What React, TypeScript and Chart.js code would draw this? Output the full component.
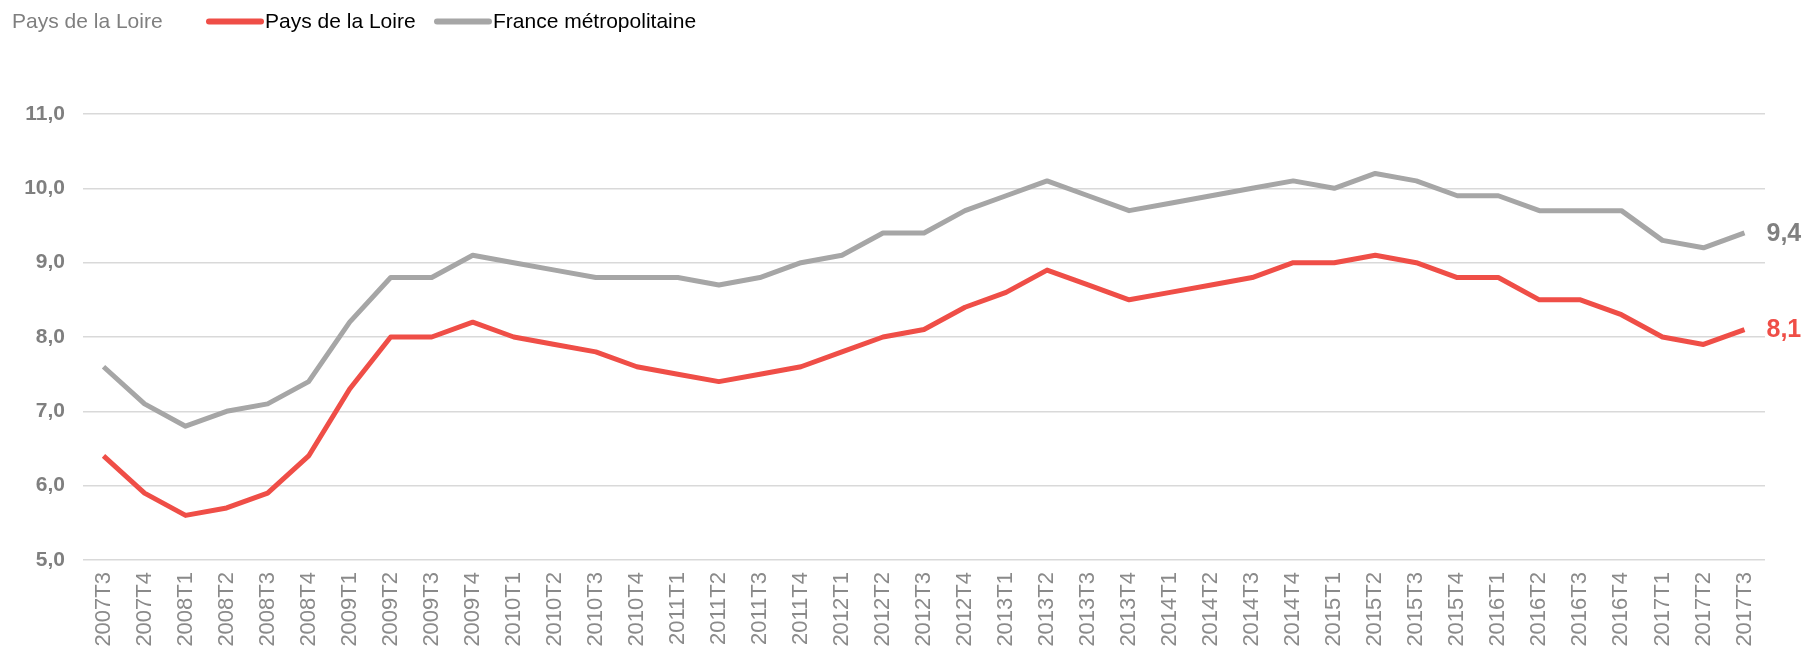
import React, { useEffect, useRef } from "react";
import { Chart, registerables } from "chart.js";

Chart.register(...registerables);

const categories = [
  "2007T3", "2007T4",
  "2008T1", "2008T2", "2008T3", "2008T4",
  "2009T1", "2009T2", "2009T3", "2009T4",
  "2010T1", "2010T2", "2010T3", "2010T4",
  "2011T1", "2011T2", "2011T3", "2011T4",
  "2012T1", "2012T2", "2012T3", "2012T4",
  "2013T1", "2013T2", "2013T3", "2013T4",
  "2014T1", "2014T2", "2014T3", "2014T4",
  "2015T1", "2015T2", "2015T3", "2015T4",
  "2016T1", "2016T2", "2016T3", "2016T4",
  "2017T1", "2017T2", "2017T3",
];

const paysDeLaLoire = [
  6.4, 5.9, 5.6, 5.7, 5.9, 6.4, 7.3, 8.0, 8.0, 8.2, 8.0, 7.9, 7.8, 7.6, 7.5, 7.4,
  7.5, 7.6, 7.8, 8.0, 8.1, 8.4, 8.6, 8.9, 8.7, 8.5, 8.6, 8.7, 8.8, 9.0, 9.0, 9.1,
  9.0, 8.8, 8.8, 8.5, 8.5, 8.3, 8.0, 7.9, 8.1,
];

const franceMetro = [
  7.6, 7.1, 6.8, 7.0, 7.1, 7.4, 8.2, 8.8, 8.8, 9.1, 9.0, 8.9, 8.8, 8.8, 8.8, 8.7,
  8.8, 9.0, 9.1, 9.4, 9.4, 9.7, 9.9, 10.1, 9.9, 9.7, 9.8, 9.9, 10.0, 10.1, 10.0, 10.2,
  10.1, 9.9, 9.9, 9.7, 9.7, 9.7, 9.3, 9.2, 9.4,
];

const seriesNames = ["Pays de la Loire", "France métropolitaine"];
const chartTitle = "Pays de la Loire";
const yMin = 5;
const yMax = 11;

const RED = "#ef4e47";
const GREY = "#a6a6a6";
const FONT = "'Liberation Sans', Arial, sans-serif";

const fmt = (v: number) => v.toFixed(1).replace(".", ",");

const legendPlugin = {
  id: "customLegend",
  afterDraw(chart: any) {
    const ctx = chart.ctx;
    ctx.save();
    ctx.textBaseline = "alphabetic";
    ctx.textAlign = "left";
    ctx.font = `21px ${FONT}`;
    const base = 28;
    const lineY = 21.5;
    ctx.fillStyle = "#7f7f7f";
    ctx.fillText(chartTitle, 12, base);
    const items = [
      { x: 209, w: 52, color: RED, name: seriesNames[0], tx: 265 },
      { x: 437, w: 52, color: GREY, name: seriesNames[1], tx: 493 },
    ];
    items.forEach((it) => {
      ctx.strokeStyle = it.color;
      ctx.lineWidth = 6;
      ctx.lineCap = "round";
      ctx.beginPath();
      ctx.moveTo(it.x, lineY);
      ctx.lineTo(it.x + it.w, lineY);
      ctx.stroke();
      ctx.fillStyle = "#000000";
      ctx.fillText(it.name, it.tx, base);
    });
    ctx.restore();
  },
};

const endLabelPlugin = {
  id: "endLabels",
  afterDatasetsDraw(chart: any) {
    const ctx = chart.ctx;
    ctx.save();
    ctx.textBaseline = "middle";
    ctx.textAlign = "left";
    ctx.font = `bold 25px ${FONT}`;
    chart.data.datasets.forEach((ds: any, i: number) => {
      const meta = chart.getDatasetMeta(i);
      const pt = meta.data[meta.data.length - 1];
      const v = ds.data[ds.data.length - 1];
      ctx.fillStyle = i === 0 ? RED : "#808080";
      ctx.fillText(fmt(v), pt.x + 22, pt.y + 1);
    });
    ctx.restore();
  },
};

export default function App() {
  const ref = useRef<HTMLCanvasElement>(null);
  useEffect(() => {
    document.body.style.margin = "0";
    const chart = new Chart(ref.current!, {
      type: "line",
      data: {
        labels: categories,
        datasets: [
          {
            label: seriesNames[0],
            data: paysDeLaLoire,
            borderColor: RED,
            backgroundColor: RED,
            borderWidth: 5,
            pointRadius: 0,
            tension: 0,
            borderJoinStyle: "round",
          },
          {
            label: seriesNames[1],
            data: franceMetro,
            borderColor: GREY,
            backgroundColor: GREY,
            borderWidth: 5,
            pointRadius: 0,
            tension: 0,
            borderJoinStyle: "round",
          },
        ],
      },
      options: {
        responsive: false,
        animation: false,
        layout: { padding: { top: 114, right: 43, left: 0, bottom: 0 } },
        plugins: {
          legend: { display: false },
          tooltip: { enabled: false },
        },
        scales: {
          x: {
            offset: true,
            grid: { display: false, drawTicks: false },
            border: { display: false },
            ticks: {
              autoSkip: false,
              maxRotation: 90,
              minRotation: 90,
              padding: 12,
              color: "#8a8a8a",
              font: { family: FONT, size: 22 },
            },
            afterFit: (s: any) => {
              s.height = 87;
            },
          },
          y: {
            min: yMin,
            max: yMax,
            border: { display: false },
            grid: { color: "#d9d9d9", lineWidth: 1.5, drawTicks: false },
            ticks: {
              stepSize: 1,
              padding: 18,
              color: "#7f7f7f",
              font: { family: FONT, size: 21, weight: "bold" },
              callback: (v: any) => fmt(Number(v)),
            },
            afterFit: (s: any) => {
              s.width = 83;
            },
          },
        },
      },
      plugins: [legendPlugin, endLabelPlugin],
    });
    return () => chart.destroy();
  }, []);
  return <canvas ref={ref} width={1808} height={647} style={{ display: "block" }} />;
}
